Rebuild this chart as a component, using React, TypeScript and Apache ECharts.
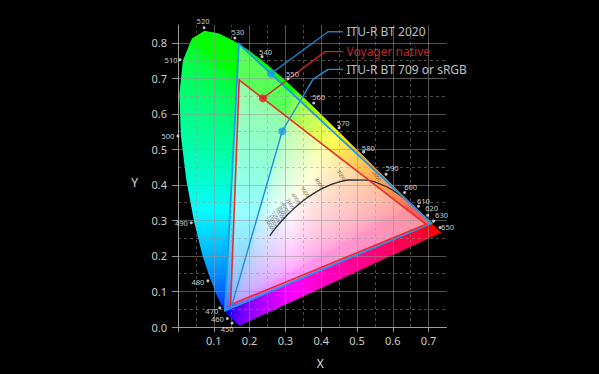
import React, { useEffect, useRef } from "react";
import * as echarts from "echarts";

// ---- CIE 1931 spectral locus (wavelength nm, x, y) ----
const locusWavelengths = [380, 400, 420, 430, 440, 450, 455, 460, 465, 470, 475, 480, 485, 490, 495, 500, 505, 510, 515, 520, 525, 530, 535, 540, 545, 550, 555, 560, 565, 570, 575, 580, 585, 590, 595, 600, 605, 610, 620, 630, 640, 650, 660, 680, 700];
const locusX = [0.1741, 0.1733, 0.1714, 0.1689, 0.1644, 0.1566, 0.151, 0.144, 0.1355, 0.1241, 0.1096, 0.0913, 0.0687, 0.0454, 0.0235, 0.0082, 0.0039, 0.0139, 0.0389, 0.0743, 0.1142, 0.1547, 0.1929, 0.2296, 0.2658, 0.3016, 0.3373, 0.3731, 0.4087, 0.4441, 0.4788, 0.5125, 0.5448, 0.5752, 0.6029, 0.627, 0.6482, 0.6658, 0.6915, 0.7079, 0.719, 0.726, 0.73, 0.7334, 0.7347];
const locusY = [0.005, 0.0048, 0.0051, 0.0069, 0.0109, 0.0177, 0.0227, 0.0297, 0.0399, 0.0578, 0.0868, 0.1327, 0.2007, 0.295, 0.4127, 0.5384, 0.6548, 0.7502, 0.812, 0.8338, 0.8262, 0.8059, 0.7816, 0.7543, 0.7243, 0.6923, 0.6589, 0.6245, 0.5896, 0.5547, 0.5202, 0.4866, 0.4544, 0.4242, 0.3965, 0.3725, 0.3514, 0.334, 0.3083, 0.292, 0.2809, 0.274, 0.27, 0.2666, 0.2653];
const wavelengthLabels = [450, 460, 470, 480, 490, 500, 510, 520, 530, 540, 550, 560, 570, 580, 590, 600, 610, 620, 630, 650];

// ---- Planckian locus ----
const planckTemps = [20000, 15000, 12000, 10000, 9000, 8000, 7000, 6000, 5500, 5000, 4500, 4000, 3500, 3000, 2500, 2000, 1500, 1200, 1000];
const planckX = [0.2565, 0.2637, 0.2719, 0.2806, 0.2869, 0.2952, 0.3064, 0.3221, 0.3325, 0.3451, 0.3608, 0.3805, 0.4053, 0.4369, 0.477, 0.5267, 0.5857, 0.6251, 0.6528];
const planckY = [0.2564, 0.2668, 0.2776, 0.2883, 0.2956, 0.3048, 0.3166, 0.3318, 0.3411, 0.3516, 0.3636, 0.3768, 0.3907, 0.4041, 0.4137, 0.4133, 0.3931, 0.3674, 0.3444];
const planckLabelTemps = [20000, 15000, 12000, 10000, 9000, 8000, 7000, 6000, 5000, 4000, 3000, 2000];

// ---- Gamuts ----
const bt2020X = [0.708, 0.17, 0.131];
const bt2020Y = [0.292, 0.797, 0.046];
const voyagerX = [0.693, 0.171, 0.147];
const voyagerY = [0.289, 0.695, 0.063];
const bt709Blue = [0.15, 0.06];
const bt2020Marker = [0.26, 0.713];
const voyagerMarker = [0.237, 0.644];
const bt709Marker = [0.291, 0.551];
const whitePoint = [0.3127, 0.329];

// ---- Axis ticks ----
const xTickValues = [0, 0.1, 0.2, 0.3, 0.4, 0.5, 0.6, 0.7];
const yTickValues = [0, 0.1, 0.2, 0.3, 0.4, 0.5, 0.6, 0.7, 0.8];
const xMinorLines = [0.05, 0.15, 0.25, 0.35, 0.45, 0.55, 0.65];
const yMinorLines = [0.05, 0.15, 0.25, 0.35, 0.45, 0.55, 0.65, 0.75];

// ---- layout ----
const WIDTH = 599;
const HEIGHT = 374;
const GRID = { left: 178, top: 25, right: 152.5, bottom: 43 };
const X_MAX = 0.75;
const Y_MAX = 0.85;
const SX = (WIDTH - GRID.left - GRID.right) / X_MAX;
const SY = (HEIGHT - GRID.top - GRID.bottom) / Y_MAX;
const FONT = "'Noto Sans', 'Open Sans', sans-serif";

// callout anchors (data coords)
const callout2020 = [[0.419, 0.831], [0.461, 0.831]];
const calloutVoyager = [[0.411, 0.775], [0.461, 0.775]];
const callout709 = [[0.377, 0.697], [0.419, 0.725], [0.461, 0.725]];

// wavelength text offsets relative to dot (pixels)
const waveTextOffset: Record<number, number[]> = {
  450: [-5, 6], 460: [-10, 1], 470: [-8, 3], 480: [-10, 1.5], 490: [-10, 0.5],
  500: [-10, 0], 510: [-9, 0], 520: [-1, -7], 530: [3, -6], 540: [3.5, -4.5],
  550: [4.5, -5], 560: [5, -6], 570: [4, -4.7], 580: [4.7, -4.3], 590: [6, -5.7],
  600: [6, -5.7], 610: [5, -5.3], 620: [4, -7], 630: [8, -6.5], 650: [7.5, -1],
};

function gam(c: number) {
  return c <= 0.0031308 ? 12.92 * c : 1.055 * Math.pow(c, 1 / 2.4) - 0.055;
}
function xyToColor(x: number, y: number) {
  const yy = Math.max(y, 0.0008);
  const X = x / yy;
  const Z = (1 - x - yy) / yy;
  let r = 3.2406 * X - 1.5372 - 0.4986 * Z;
  let g = -0.9689 * X + 1.8758 + 0.0415 * Z;
  let b = 0.0557 * X - 0.204 + 1.057 * Z;
  r = Math.max(0, r);
  g = Math.max(0, g);
  b = Math.max(0, b);
  const m = Math.max(r, g, b) || 1;
  const R = Math.round(255 * gam(r / m));
  const G = Math.round(255 * gam(g / m));
  const B = Math.round(255 * gam(b / m));
  return `rgb(${R},${G},${B})`;
}

function outwardNormal(i: number) {
  const n = locusX.length;
  const a = Math.max(0, i - 1);
  const b = Math.min(n - 1, i + 1);
  const tx = (locusX[b] - locusX[a]) * SX;
  const ty = -(locusY[b] - locusY[a]) * SY;
  let nx = ty;
  let ny = -tx;
  const len = Math.hypot(nx, ny) || 1;
  nx /= len;
  ny /= len;
  const px = (locusX[i] - whitePoint[0]) * SX;
  const py = -(locusY[i] - whitePoint[1]) * SY;
  if (nx * px + ny * py < 0) {
    nx = -nx;
    ny = -ny;
  }
  return [nx, ny];
}

function planckNormal(i: number) {
  const n = planckX.length;
  const a = Math.max(0, i - 1);
  const b = Math.min(n - 1, i + 1);
  const tx = (planckX[b] - planckX[a]) * SX;
  const ty = -(planckY[b] - planckY[a]) * SY;
  let nx = ty;
  let ny = -tx;
  const len = Math.hypot(nx, ny) || 1;
  nx /= len;
  ny /= len;
  if (ny > 0) {
    nx = -nx;
    ny = -ny;
  }
  return [nx, ny];
}

function buildOption() {
  const axisColor = "rgba(170,170,170,0.85)";
  const splitColor = "rgba(150,150,150,0.55)";

  const fillSeries = {
    type: "custom",
    coordinateSystem: "cartesian2d",
    silent: true,
    z: 1,
    data: [[0, 0]],
    renderItem: (params: any, api: any) => {
      const o = api.coord([0, 0]);
      const e = api.coord([1, 1]);
      const kx = e[0] - o[0];
      const ky = e[1] - o[1];
      const pts = locusX.map((x, i) => api.coord([x, locusY[i]]));
      const xsP = pts.map((p: number[]) => p[0]);
      const ysP = pts.map((p: number[]) => p[1]);
      const x0 = Math.floor(Math.min(...xsP)) - 2;
      const x1 = Math.ceil(Math.max(...xsP)) + 2;
      const y0 = Math.floor(Math.min(...ysP)) - 2;
      const y1 = Math.ceil(Math.max(...ysP)) + 2;
      const children: any[] = [];
      const step = 2;
      for (let py = y0; py < y1; py += step) {
        const yv = (py + step / 2 - o[1]) / ky;
        const stops: any[] = [];
        for (let px = x0; px <= x1; px += 3) {
          const xv = (px - o[0]) / kx;
          stops.push({ offset: (px - x0) / (x1 - x0), color: xyToColor(xv, yv) });
        }
        children.push({
          type: "rect",
          shape: { x: x0, y: py, width: x1 - x0, height: step + 0.6 },
          style: { fill: { type: "linear", x: 0, y: 0, x2: 1, y2: 0, colorStops: stops } },
        });
      }
      return {
        type: "group",
        children,
        clipPath: { type: "polygon", shape: { points: pts } },
      };
    },
  };

  const overlaySeries = {
    type: "custom",
    coordinateSystem: "cartesian2d",
    silent: true,
    z: 1,
    data: [[0, 0]],
    renderItem: (params: any, api: any) => {
      const p2020 = bt2020X.map((x, i) => api.coord([x, bt2020Y[i]]));
      const pVoy = voyagerX.map((x, i) => api.coord([x, voyagerY[i]]));
      return {
        type: "group",
        children: [
          { type: "polygon", shape: { points: p2020 }, style: { fill: "rgba(255,255,255,0.34)" } },
          { type: "polygon", shape: { points: pVoy }, style: { fill: "rgba(255,255,255,0.36)" } },
        ],
      };
    },
  };

  const edgesSeries = {
    type: "custom",
    coordinateSystem: "cartesian2d",
    silent: true,
    z: 5,
    data: [[0, 0]],
    renderItem: (params: any, api: any) => {
      const p2020 = bt2020X.map((x, i) => api.coord([x, bt2020Y[i]]));
      const pVoy = voyagerX.map((x, i) => api.coord([x, voyagerY[i]]));
      return {
        type: "group",
        children: [
          { type: "polygon", shape: { points: p2020 }, style: { fill: "none", stroke: "#1e9be6", lineWidth: 1.8 } },
          { type: "polygon", shape: { points: pVoy }, style: { fill: "none", stroke: "#ee2a30", lineWidth: 1.6 } },
        ],
      };
    },
  };

  const planckSeries = {
    type: "line",
    z: 4,
    silent: true,
    smooth: 0.3,
    showSymbol: false,
    data: planckX.map((x, i) => [x, planckY[i]]),
    lineStyle: { color: "#2b2b2b", width: 1.3 },
    markLine: {
      z: 3,
      silent: true,
      symbol: ["none", "none"],
      animation: false,
      label: { show: false },
      lineStyle: { type: [3, 3], color: "rgba(150,150,150,0.5)", width: 1 },
      emphasis: { disabled: true },
      data: [
        ...xMinorLines.map((v) => ({ xAxis: v })),
        ...yMinorLines.map((v) => ({ yAxis: v })),
      ],
    },
  };

  const planckLabels = {
    type: "scatter",
    z: 4,
    silent: true,
    symbolSize: 1,
    itemStyle: { color: "transparent" },
    label: {
      show: true,
      position: "inside",
      formatter: "{b}",
      fontSize: 5,
      color: "#3a3a3a",
      textBorderWidth: 0,
      rotate: -58,
      fontFamily: FONT,
    },
    data: planckLabelTemps.map((t) => {
      const i = planckTemps.indexOf(t);
      const n = planckNormal(i);
      return {
        name: String(t),
        value: [planckX[i], planckY[i]],
        label: { offset: [n[0] * 11, n[1] * 11] },
      };
    }),
  };

  const waveDots = {
    type: "scatter",
    z: 6,
    silent: true,
    symbolSize: 3,
    itemStyle: { color: "#f2f2f2" },
    data: wavelengthLabels.map((w) => {
      const i = locusWavelengths.indexOf(w);
      const n = outwardNormal(i);
      return { value: [locusX[i], locusY[i]], symbolOffset: [n[0] * 3, n[1] * 3] };
    }),
  };

  const waveTexts = {
    type: "scatter",
    z: 6,
    silent: true,
    symbolSize: 1,
    itemStyle: { color: "transparent" },
    label: {
      show: true,
      position: "inside",
      formatter: "{b}",
      fontSize: 7.5,
      color: "#ffffff",
      textBorderWidth: 0,
      fontFamily: FONT,
    },
    data: wavelengthLabels.map((w) => {
      const i = locusWavelengths.indexOf(w);
      const n = outwardNormal(i);
      const t = waveTextOffset[w] || [0, 0];
      return {
        name: String(w),
        value: [locusX[i], locusY[i]],
        label: { offset: [n[0] * 3 + t[0], n[1] * 3 + t[1]] },
      };
    }),
  };

  const line709 = {
    type: "line",
    z: 5,
    silent: true,
    showSymbol: false,
    data: [bt709Blue, bt709Marker, ...callout709],
    lineStyle: { color: "#1e8fdc", width: 1.4 },
  };
  const lineC2020 = {
    type: "line",
    z: 5,
    silent: true,
    showSymbol: false,
    data: [bt2020Marker, ...callout2020],
    lineStyle: { color: "#1c7fc4", width: 1.4 },
  };
  const lineCVoy = {
    type: "line",
    z: 5,
    silent: true,
    showSymbol: false,
    data: [voyagerMarker, ...calloutVoyager],
    lineStyle: { color: "#c8242a", width: 1.4 },
  };

  const markers = {
    type: "scatter",
    z: 7,
    silent: true,
    symbolSize: 8,
    data: [
      { value: bt2020Marker, itemStyle: { color: "#2196e8" } },
      { value: voyagerMarker, itemStyle: { color: "#e8161c" } },
      { value: bt709Marker, itemStyle: { color: "#2196e8" } },
    ],
  };

  const calloutLabels = {
    type: "scatter",
    z: 7,
    silent: true,
    symbolSize: 1,
    itemStyle: { color: "transparent" },
    label: {
      show: true,
      position: "right",
      distance: 3,
      formatter: "{b}",
      fontSize: 12,
      textBorderWidth: 0,
      fontFamily: FONT,
    },
    data: [
      { name: "ITU-R BT 2020", value: callout2020[callout2020.length - 1], label: { color: "#f0f0f0" } },
      { name: "Voyager native", value: calloutVoyager[calloutVoyager.length - 1], label: { color: "#e8353a" } },
      { name: "ITU-R BT 709 or sRGB", value: callout709[callout709.length - 1], label: { color: "#f0f0f0" } },
    ],
  };

  return {
    animation: false,
    backgroundColor: "#000",
    textStyle: { fontFamily: FONT },
    grid: { left: GRID.left, top: GRID.top, right: GRID.right, bottom: GRID.bottom, containLabel: false },
    xAxis: {
      type: "value",
      min: 0,
      max: X_MAX,
      interval: 0.1,
      z: 3,
      name: "X",
      nameLocation: "middle",
      nameGap: 30,
      nameTextStyle: { color: "#dddddd", fontSize: 12, fontFamily: FONT, padding: [0, 0, 0, 16] },
      axisLine: { show: true, onZero: false, lineStyle: { color: axisColor, width: 1 } },
      axisTick: { show: true, length: 5, lineStyle: { color: axisColor }, customValues: xTickValues },
      axisLabel: {
        color: "#cccccc",
        fontSize: 11,
        margin: 8,
        showMaxLabel: false,
        formatter: (v: number) => (v < 0.05 || v > 0.72 ? "" : v.toFixed(1)),
      },
      splitLine: { show: true, lineStyle: { color: splitColor, width: 1 } },
    },
    yAxis: {
      type: "value",
      min: 0,
      max: Y_MAX,
      interval: 0.1,
      z: 3,
      name: "Y",
      nameLocation: "middle",
      nameGap: 40,
      nameRotate: 0,
      nameTextStyle: { color: "#dddddd", fontSize: 12, fontFamily: FONT, verticalAlign: "top" },
      axisLine: { show: true, onZero: false, lineStyle: { color: axisColor, width: 1 } },
      axisTick: { show: true, length: 6, lineStyle: { color: axisColor }, customValues: yTickValues },
      axisLabel: {
        color: "#cccccc",
        fontSize: 11,
        margin: 11,
        showMaxLabel: false,
        formatter: (v: number) => (v > 0.82 ? "" : v.toFixed(1)),
      },
      splitLine: { show: true, lineStyle: { color: splitColor, width: 1 } },
    },
    series: [
      fillSeries,
      overlaySeries,
      planckSeries,
      planckLabels,
      edgesSeries,
      line709,
      lineC2020,
      lineCVoy,
      markers,
      waveDots,
      waveTexts,
      calloutLabels,
    ],
  };
}

export default function App() {
  const ref = useRef<HTMLDivElement>(null);
  useEffect(() => {
    document.body.style.margin = "0";
    document.body.style.background = "#000";
    const chart = echarts.init(ref.current as HTMLDivElement, null, { renderer: "svg" });
    chart.setOption(buildOption() as any);
    return () => {
      chart.dispose();
    };
  }, []);
  return <div ref={ref} style={{ width: WIDTH, height: HEIGHT, background: "#000" }} />;
}
